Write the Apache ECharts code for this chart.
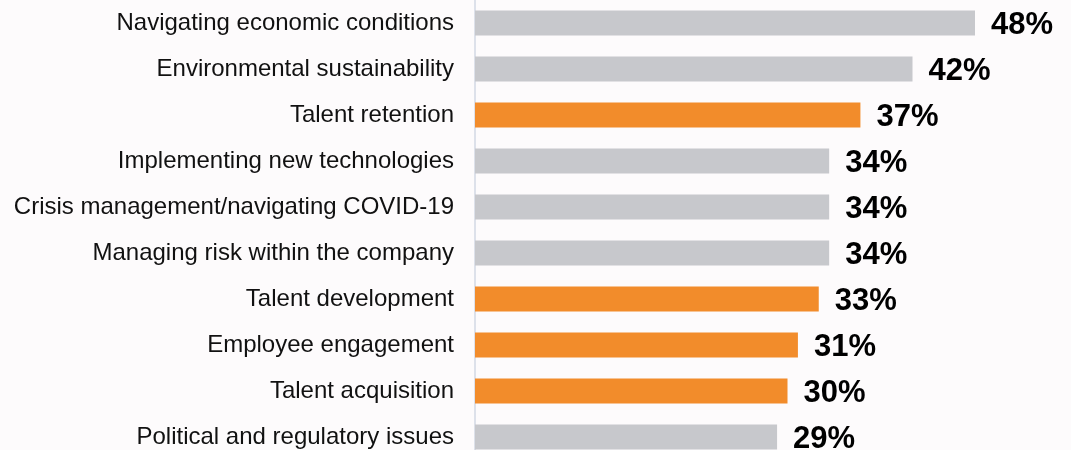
<!DOCTYPE html>
<html>
<head>
<meta charset="utf-8">
<script src="https://cdn.jsdelivr.net/npm/echarts@6/dist/echarts.min.js"></script>
<style>
  html, body { margin: 0; padding: 0; background: #fdfbfc; }
  #chart { width: 1071px; height: 450px; }
</style>
</head>
<body>
<div id="chart"></div>
<script>
// categories top to bottom
var categories = [
    'Navigating economic conditions',
    'Environmental sustainability',
    'Talent retention',
    'Implementing new technologies',
    'Crisis management/navigating COVID-19',
    'Managing risk within the company',
    'Talent development',
    'Employee engagement',
    'Talent acquisition',
    'Political and regulatory issues'
];
var values = [48, 42, 37, 34, 34, 34, 33, 31, 30, 29];
// talent topics are highlighted
var highlighted = [false, false, true, false, false, false, true, true, true, false];

var myChart = echarts.init(document.getElementById('chart'));
var option = {
    backgroundColor: '#fdfbfc',
    animation: false,
    grid: {
        left: 475,
        right: 96,
        top: 0,
        height: 460,
        outerBoundsMode: 'none',
        containLabel: false
    },
    xAxis: {
        type: 'value',
        min: 0,
        max: 48,
        show: false
    },
    yAxis: {
        type: 'category',
        inverse: true,
        data: categories,
        axisTick: { show: false },
        axisLine: {
            show: true,
            lineStyle: { color: '#dde1ea', width: 2 }
        },
        axisLabel: {
            margin: 21,
            fontFamily: 'Liberation Sans, Arial',
            fontSize: 24,
            color: '#111'
        }
    },
    series: [{
        type: 'bar',
        barWidth: 25,
        data: values.map(function (v, i) {
            return {
                value: v,
                itemStyle: { color: highlighted[i] ? '#f28c2b' : '#c7c8cc' }
            };
        }),
        label: {
            show: true,
            position: 'right',
            distance: 16,
            offset: [0, 2],
            formatter: '{c}%',
            fontFamily: 'Liberation Sans, Arial',
            fontWeight: 'bold',
            fontSize: 31,
            color: '#000'
        }
    }]
};
myChart.setOption(option);
</script>
</body>
</html>
